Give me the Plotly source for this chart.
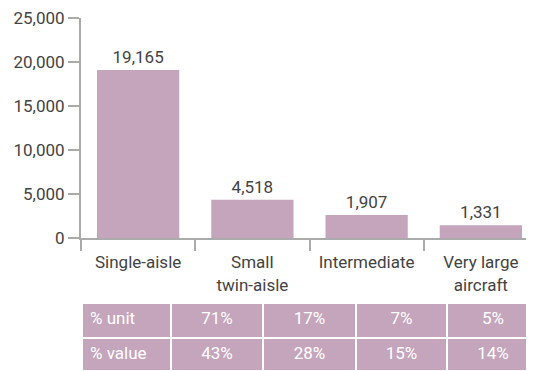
import plotly.graph_objects as go

categories = ["Single-aisle", "Small<br>twin-aisle", "Intermediate", "Very large<br>aircraft"]
bar_heights = [19100, 4350, 2620, 1440]
bar_labels = ["19,165", "4,518", "1,907", "1,331"]
table_rows = ["% unit", "% value"]
pct_unit = ["71%", "17%", "7%", "5%"]
pct_value = ["43%", "28%", "15%", "14%"]
y_ticks = [0, 5000, 10000, 15000, 20000, 25000]

W, H = 534, 371
BAR = "#c4a5bc"
TXT = "#434343"
AX = "#ababab"
FONT = "Roboto, Liberation Sans, Arial, sans-serif"

fig = go.Figure()
fig.add_trace(go.Bar(
    x=categories, y=bar_heights, width=0.72,
    marker=dict(color=BAR, line=dict(width=0)),
    text=bar_labels, textposition="outside", cliponaxis=False,
    textfont=dict(size=17, color=TXT, family=FONT),
    hoverinfo="skip",
))

fig.add_trace(go.Table(
    domain=dict(x=[74 / W, 531 / W], y=[(H - 363) / H, (H - 295) / H]),
    columnwidth=[89, 92, 93, 91, 92],
    header=dict(
        values=[table_rows[0]] + pct_unit,
        fill_color=BAR, line=dict(color="white", width=2),
        align=["left", "center", "center", "center", "center"],
        font=dict(color="white", size=17, family=FONT), height=35,
    ),
    cells=dict(
        values=[[table_rows[1]]] + [[v] for v in pct_value],
        fill_color=BAR, line=dict(color="white", width=2),
        align=["left", "center", "center", "center", "center"],
        font=dict(color="white", size=17, family=FONT), height=33,
    ),
))

fig.update_layout(
    width=W, height=H,
    margin=dict(l=0, r=0, t=0, b=0, pad=0, autoexpand=False),
    paper_bgcolor="white", plot_bgcolor="white",
    showlegend=False,
    font=dict(family=FONT, size=17, color=TXT),
    xaxis=dict(
        domain=[73 / W, 530 / W],
        type="category", range=[-0.5, 3.5], tickson="boundaries",
        ticks="outside", ticklen=11, tickcolor=AX, tickwidth=2,
        showline=True, linecolor=AX, linewidth=2, showgrid=False,
        tickfont=dict(size=17, color=TXT), fixedrange=True, automargin=False,
        ticklabelstandoff=8, ticklabeloverflow="allow",
    ),
    yaxis=dict(
        domain=[(H - 230) / H, (H - 10) / H],
        range=[0, 25000], tickvals=y_ticks, tickformat=",",
        ticks="outside", ticklen=11, tickcolor=AX, tickwidth=2,
        showline=True, linecolor=AX, linewidth=2, showgrid=False,
        zeroline=False, tickfont=dict(size=17, color=TXT),
        ticklabelstandoff=0, fixedrange=True, automargin=False,
        ticklabeloverflow="allow",
    ),
)

fig.write_html("out.html")
